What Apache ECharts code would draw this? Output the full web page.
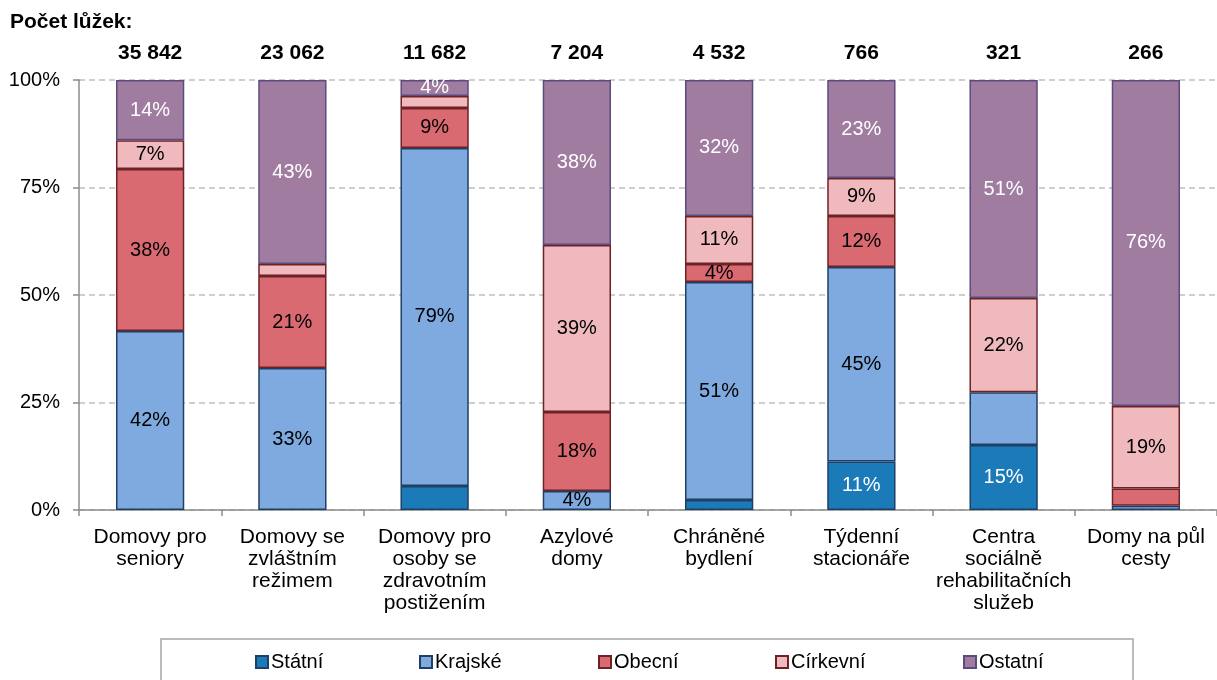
<!DOCTYPE html>
<html>
<head>
<meta charset="utf-8">
<script src="https://cdn.jsdelivr.net/npm/echarts@6/dist/echarts.min.js"></script>
<style>
html,body{margin:0;padding:0;background:#fff;}
#chart{width:1217px;height:680px;}
</style>
</head>
<body>
<div id="chart"></div>
<script>
const categories = ['Domovy pro\nseniory', 'Domovy se\nzvláštním\nrežimem', 'Domovy pro\nosoby se\nzdravotním\npostižením', 'Azylové\ndomy', 'Chráněné\nbydlení', 'Týdenní\nstacionáře', 'Centra\nsociálně\nrehabilitačních\nslužeb', 'Domy na půl\ncesty'];
const totals = ['35 842', '23 062', '11 682', '7 204', '4 532', '766', '321', '266'];
const yTicks = [0, 25, 50, 75, 100];
const seriesNames = ['Státní', 'Krajské', 'Obecní', 'Církevní', 'Ostatní'];
const statni   = [0, 0, 5.6, 0, 2.3, 11.3, 15.1, 0];
const krajske  = [41.6, 33.0, 78.6, 4.4, 50.7, 45.2, 12.3, 1.0];
const obecni   = [37.7, 21.4, 9.3, 18.4, 4.2, 11.9, 0, 4.0];
const cirkevni = [6.7, 2.8, 2.8, 38.8, 11.2, 8.8, 21.9, 19.2];
const ostatni  = [14.0, 42.8, 3.7, 38.4, 31.6, 22.8, 50.7, 75.8];
const statniShow   = [0, 0, 0, 0, 0, 1, 1, 0];
const krajskeShow  = [1, 1, 1, 1, 1, 1, 0, 0];
const obecniShow   = [1, 1, 1, 1, 1, 1, 0, 0];
const cirkevniShow = [1, 0, 0, 1, 1, 1, 1, 1];
const ostatniShow  = [1, 1, 1, 1, 1, 1, 1, 1];

const values = [statni, krajske, obecni, cirkevni, ostatni];
const shows = [statniShow, krajskeShow, obecniShow, cirkevniShow, ostatniShow];
const fills = ['#1b7ab8', '#7eaadf', '#d96a72', '#efb9bd', '#a07ca0'];
const borders = ['#203f66', '#203f66', '#6e2226', '#6e2226', '#5e4b7e'];
const labelColors = ['#ffffff', '#000000', '#000000', '#000000', '#ffffff'];
const legendLeft = [255, 419, 598, 775, 963];

const FONT = 'Liberation Sans, Arial, sans-serif';

const series = seriesNames.map((name, i) => ({
  name: name,
  type: 'bar',
  stack: 'total',
  barWidth: '48%',
  itemStyle: { color: fills[i], borderColor: borders[i], borderWidth: 1.5 },
  label: {
    show: true, position: 'inside', color: labelColors[i],
    fontFamily: FONT, fontSize: 20,
    formatter: p => Math.round(p.value) + '%'
  },
  emphasis: { disabled: true },
  data: values[i].map((v, j) => ({
    value: v === 0 ? '-' : v,
    label: { show: !!shows[i][j] }
  }))
}));

const legends = seriesNames.map((name, i) => ({
  data: [name],
  left: legendLeft[i],
  top: 652,
  padding: 0,
  itemWidth: 12,
  itemHeight: 12,
  icon: 'rect',
  textStyle: { fontFamily: FONT, fontSize: 20, color: '#000', padding: [0, 0, 0, -2] },
  selectedMode: false
}));

const chart = echarts.init(document.getElementById('chart'), null, { renderer: 'canvas' });
chart.setOption({
  animation: false,
  backgroundColor: '#ffffff',
  title: {
    text: 'Počet lůžek:', left: 10, top: 12, padding: 0,
    textStyle: { fontFamily: FONT, fontSize: 21, fontWeight: 'bold', color: '#000' }
  },
  graphic: [{
    type: 'rect', shape: { x: 161, y: 639, width: 972, height: 60 },
    style: { fill: 'none', stroke: '#a6a6a6', lineWidth: 1.5 }, silent: true
  }],
  legend: legends,
  grid: { left: 79, right: -12, top: 80, bottom: 170, containLabel: false },
  xAxis: [{
    type: 'category',
    data: categories,
    position: 'bottom',
    axisLine: { show: true, lineStyle: { color: '#8c8c8c', width: 1.5 } },
    axisTick: { show: true, length: 6, lineStyle: { color: '#8c8c8c', width: 1.5 } },
    axisLabel: { fontFamily: FONT, fontSize: 21, color: '#000', lineHeight: 22, margin: 16, interval: 0 }
  }, {
    type: 'category',
    data: totals,
    position: 'top',
    axisLine: { show: false },
    axisTick: { show: false },
    axisLabel: { fontFamily: FONT, fontSize: 21, fontWeight: 'bold', color: '#000', margin: 16, interval: 0 }
  }],
  yAxis: {
    type: 'value', min: 0, max: 100, interval: 25,
    axisLine: { show: true, lineStyle: { color: '#8c8c8c', width: 1.5 } },
    axisTick: { show: true, length: 6, lineStyle: { color: '#8c8c8c', width: 1.5 } },
    axisLabel: {
      fontFamily: FONT, fontSize: 20, color: '#000', margin: 19,
      formatter: v => (yTicks.indexOf(v) >= 0 ? v + '%' : '')
    },
    splitLine: { show: true, lineStyle: { color: '#bfbfbf', type: [6, 4], width: 1.5 } }
  },
  series: series
});
</script>
</body>
</html>
